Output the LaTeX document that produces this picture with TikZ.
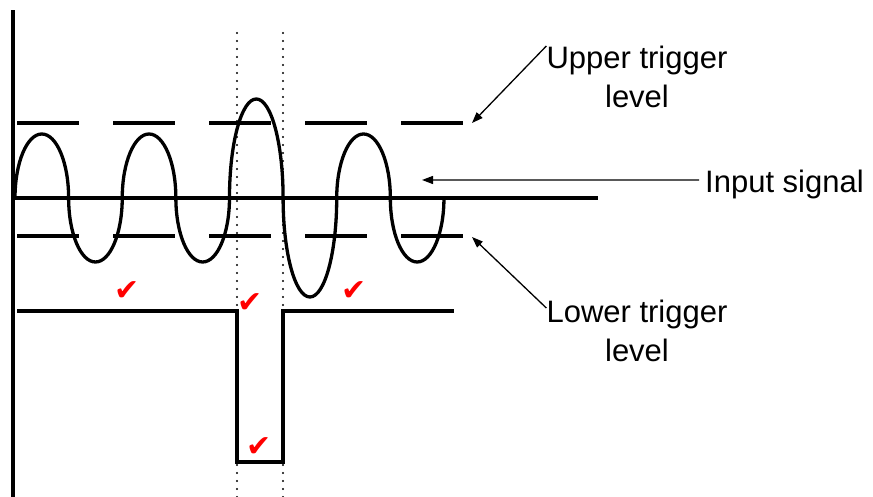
\documentclass[tikz,border=0pt]{standalone}
\usepackage{fontspec}
\setmainfont{Liberation Sans}
\newfontfamily\symfont{DejaVu Sans}
\usetikzlibrary{arrows.meta,positioning}
\definecolor{tickred}{RGB}{255,0,0}

\begin{document}
\begin{tikzpicture}[x=1pt,y=1pt,
    thickline/.style={line width=3.3pt},
    pointer/.style={line width=1.3pt,-{Triangle[length=11pt,width=8pt]}},
    lbl/.style={inner sep=0pt,align=center,font=\fontsize{31}{39}\selectfont},
    tickmark/.style={inner sep=0pt,text=tickred,font=\symfont\fontsize{30}{30}\selectfont}]
    \useasboundingbox (0,0) rectangle (873,497);
    \draw[thickline] (13,0) -- (13,487);
    \draw[thickline] (13,299) -- (598,299);
    \foreach \y in {374,261}
      \draw[thickline,dash pattern=on 62pt off 34pt] (17,\y) -- (463,\y);
    \foreach \x in {237,283}
      \draw[line width=2.4pt,line cap=round,dash pattern=on 0pt off 8pt] (\x,464) -- (\x,0);
    \draw[thickline] (15,299) \foreach \r/\e in {64/0,64/360,64/0,64/360,99/0,99/360,64/0,64/360}
      { arc[start angle=180,end angle=\e,x radius=26.81,y radius=\r] };
    \draw[thickline] (17,186) -- (237,186) -- (237,35) -- (283,35) -- (283,186) -- (454,186);
    \foreach \p [count=\i] in {(127,206),(250,194),(354,206),(259,50)}
      \node[tickmark] (t\i) at \p {✔};
    \node[lbl,anchor=north] (upper) at (637,451) {Upper trigger\\level};
    \node[lbl,anchor=base west] (input) at (705,304) {Input signal};
    \node[lbl,anchor=north] (lower) at (637,197) {Lower trigger\\level};
    \coordinate (utip) at (472,374);
    \coordinate (itip) at (422,317);
    \coordinate (ltip) at (472,260);
    \draw[pointer] (upper.north west) -- (utip);
    \draw[pointer] ([xshift=-6pt,yshift=5pt]input.west) -- (itip);
    \draw[pointer] ([yshift=-8pt]lower.north west) -- (ltip);
\end{tikzpicture}
\end{document}
